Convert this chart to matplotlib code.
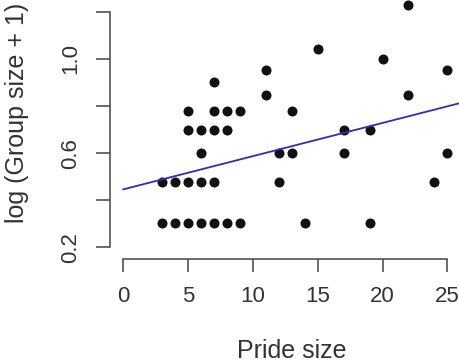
import numpy as np
import matplotlib
matplotlib.use("Agg")
import matplotlib.pyplot as plt

# Pride size vs group size (one entry per point)
pride_size = [3, 4, 5, 6, 7, 8, 9,
              3, 4, 5, 6, 7,
              6,
              5, 6, 7, 8,
              5, 7, 8, 9,
              7,
              11, 11, 12, 12, 13, 13, 14, 15,
              17, 17, 19, 19, 20, 22, 22, 24, 25, 25]
group_size = [1, 1, 1, 1, 1, 1, 1,
              2, 2, 2, 2, 2,
              3,
              4, 4, 4, 4,
              5, 5, 5, 5,
              7,
              8, 6, 3, 2, 5, 3, 1, 10,
              4, 3, 4, 1, 9, 16, 6, 2, 8, 3]

# fitted line
fit_intercept = 0.446
fit_slope = 0.0141
line_x = [0, 26]

x_ticks = [0, 5, 10, 15, 20, 25]
y_ticks = [0.2, 0.4, 0.6, 0.8, 1.0, 1.2]
y_tick_labels = ["0.2", "", "0.6", "", "1.0", ""]

plt.rcParams['font.family'] = ['Liberation Sans', 'DejaVu Sans']

fig = plt.figure(figsize=(4.6, 3.62), dpi=100)
ax = fig.add_axes([0.2398, 0.2837, 0.7609, 0.7163])

y = np.log10(np.array(group_size) + 1)
ax.scatter(pride_size, y, s=52, c='#111111', linewidths=0, zorder=3, clip_on=False)

lx = np.array(line_x, dtype=float)
ax.plot(lx, fit_intercept + fit_slope * lx, color='#2e2eb8', lw=1.3, zorder=4)

ax.set_xlim(-1, 26)
ax.set_ylim(0.149, 1.25)

for side in ['top', 'right']:
    ax.spines[side].set_visible(False)
for side in ['left', 'bottom']:
    ax.spines[side].set_color('#444444')
    ax.spines[side].set_linewidth(1.1)
ax.spines['left'].set_bounds(0.2, 1.2)
ax.spines['bottom'].set_bounds(0, 25)

ax.set_xticks(x_ticks)
ax.set_xticklabels([str(t) for t in x_ticks])
ax.set_yticks(y_ticks)
ax.set_yticklabels(y_tick_labels)
ax.tick_params(axis='x', length=9, width=1.1, color='#444444', pad=10,
               labelsize=16, labelcolor='#333333')
ax.tick_params(axis='y', length=10, width=1.1, color='#444444', pad=11,
               labelsize=16, labelcolor='#333333')
for lab in ax.get_yticklabels():
    lab.set_rotation(90)
    lab.set_va('center')

fig.text(291.7 / 460, 1 - 358 / 362, "Pride size", fontsize=18,
         color='#333333', ha='center', va='baseline')
fig.text(17.5 / 460, 1 - 113.3 / 362, "log (Group size + 1)", fontsize=18,
         color='#333333', rotation=90, ha='center', va='center')

fig.savefig("out.png", dpi=100)
